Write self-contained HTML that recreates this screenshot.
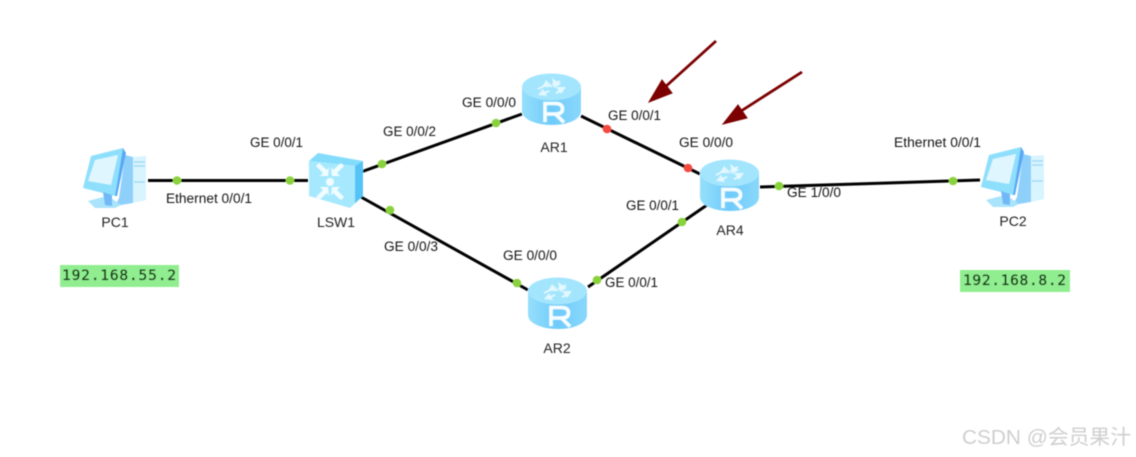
<!DOCTYPE html>
<html><head><meta charset="utf-8"><style>
html,body{margin:0;padding:0;background:#fff;width:1136px;height:457px;overflow:hidden}
svg{display:block}
text{font-family:"Liberation Sans",sans-serif;font-size:13.5px;fill:#161616}
.n{font-size:14px;text-anchor:middle;fill:#222}
.ip{font-family:"DejaVu Sans Mono","Liberation Mono",monospace;font-size:14.5px;fill:#10300f;stroke:#10300f;stroke-width:.35}
</style></head><body>
<svg width="1136" height="457" viewBox="0 0 1136 457" xmlns="http://www.w3.org/2000/svg">
<defs>
<filter id="b" filterUnits="userSpaceOnUse" x="0" y="0" width="1136" height="457"><feGaussianBlur stdDeviation="0.4"/></filter>
<linearGradient id="rb" x1="0" x2="1" y1="0" y2="0"><stop offset="0" stop-color="#96dffc"/><stop offset=".5" stop-color="#6fcbfa"/><stop offset="1" stop-color="#8ad8fb"/></linearGradient>
<g id="router">
<path d="M0 14V38C0 46 13 52 30 52S59 46 59 38V14Z" fill="url(#rb)"/>
<ellipse cx="29.500" cy="14" rx="29.500" ry="13.500" fill="#a3e5fd"/>
<g stroke="#e6f8ff" stroke-width="1.800" fill="none">
<path d="M16 16L24 12M38 8L30 12M20 21L27 18M34 20L41 17"/>
</g>
<path d="M24 7L20 14 31 14ZM30 5L39 11 32 15ZM16 22L25 23 21 16ZM44 14L34 14 39 21Z" fill="#e6f8ff" opacity=".9"/>
<path d="M23 49V30.500H33.500Q40.500 30.500 40.500 36Q40.500 41 33.500 41H23.500M33.500 41L42 49.500" stroke="#f5fdff" stroke-width="3.600" fill="none"/>
</g>
<g id="pc">
<path d="M42 7L50 9 50 55 32 58 36 50Z" fill="#8fd0fb"/>
<path d="M50 9L63 8V52L50 55Z" fill="#d8f4fe"/>
<path d="M51 14H62M51 18H62M51 34H62" stroke="#9ad6f6" stroke-width="1.300"/>
<path d="M8 8L40 0 42 5 33 48 32 48 0 40Z" fill="#8edffc"/>
<path d="M40 0L43 5 34 48 32 48Z" fill="#5aa8f5"/>
<path d="M12 12L35 7 28 37 5 33Z" fill="#dff6fe"/>
<path d="M5 53L20 49 28 50 38 57 32 60 12 60Z" fill="#a9e3fc"/>
<path d="M20 44L29 47 29 58 22 57Z" fill="#6fb9f6"/>
</g>
</defs>

<g filter="url(#b)">
<g stroke="#000" stroke-width="3" fill="none">
<path d="M148 180.500H308"/>
<path d="M361 172L522 114"/>
<path d="M361 197L528 290"/>
<path d="M581 116L700 174"/>
<path d="M588 287L707 205"/>
<path d="M760 187L980 180"/>
</g>

<use href="#pc" x="83" y="148"/>
<use href="#pc" x="981" y="147"/>

<g>
<path d="M318 153L363 161 355 166 309 161Z" fill="#83dcfb"/>
<path d="M309 161L355 166 355 203 350 208 309 196Z" fill="#a6e9fe"/>
<path d="M355 166L363 161 363 196 350 208 355 203Z" fill="#55c3f6"/>
<g fill="#f0fcff">
<path d="M316 166L319 163 327 170 329 167 328 176 320 176 323 173Z"/>
<path d="M344 166L341 163 333 170 331 167 332 176 340 176 337 173Z"/>
<path d="M316 197L319 200 327 193 329 196 328 187 320 187 323 190Z"/>
<path d="M344 197L341 200 333 193 331 196 332 187 340 187 337 190Z"/>
</g>
<circle cx="330" cy="182" r="4" fill="#f0fcff"/>
</g>

<use href="#router" x="522" y="73"/>
<use href="#router" x="700" y="159"/>
<use href="#router" x="528" y="277"/>

<g fill="#8ad23c">
<circle cx="177" cy="180.500" r="4.300"/>
<circle cx="290" cy="180.500" r="4.300"/>
<circle cx="382" cy="164" r="4.300"/>
<circle cx="390" cy="210" r="4.300"/>
<circle cx="496" cy="123" r="4.300"/>
<circle cx="517" cy="283" r="4.300"/>
<circle cx="597" cy="280" r="4.300"/>
<circle cx="682" cy="222" r="4.300"/>
<circle cx="779" cy="186" r="4.300"/>
<circle cx="953" cy="181" r="4.300"/>
</g>
<g fill="#f4493f">
<circle cx="607" cy="129" r="4.300"/>
<circle cx="688" cy="168" r="4.300"/>
</g>

<g stroke="#7b0303" stroke-width="2.800" fill="#7b0303">
<path d="M716 41L664 88" fill="none"/>
<path d="M649 102L662 80 672 93Z" stroke-width="1"/>
<path d="M802 72L738 113" fill="none"/>
<path d="M723 124L738 105 747 118Z" stroke-width="1"/>
</g>

<g>
<text x="250" y="147" textLength="53" lengthAdjust="spacingAndGlyphs">GE 0/0/1</text>
<text x="166" y="203" textLength="86" lengthAdjust="spacingAndGlyphs">Ethernet 0/0/1</text>
<text x="383" y="136" textLength="53" lengthAdjust="spacingAndGlyphs">GE 0/0/2</text>
<text x="384" y="251" textLength="54" lengthAdjust="spacingAndGlyphs">GE 0/0/3</text>
<text x="462" y="107" textLength="54" lengthAdjust="spacingAndGlyphs">GE 0/0/0</text>
<text x="608" y="120" textLength="53" lengthAdjust="spacingAndGlyphs">GE 0/0/1</text>
<text x="679" y="147" textLength="54" lengthAdjust="spacingAndGlyphs">GE 0/0/0</text>
<text x="626" y="210" textLength="53" lengthAdjust="spacingAndGlyphs">GE 0/0/1</text>
<text x="503" y="260" textLength="54" lengthAdjust="spacingAndGlyphs">GE 0/0/0</text>
<text x="605" y="287" textLength="53" lengthAdjust="spacingAndGlyphs">GE 0/0/1</text>
<text x="787" y="197" textLength="54" lengthAdjust="spacingAndGlyphs">GE 1/0/0</text>
<text x="894" y="147" textLength="87" lengthAdjust="spacingAndGlyphs">Ethernet 0/0/1</text>

<text class="n" x="115" y="227">PC1</text>
<text class="n" x="336" y="227">LSW1</text>
<text class="n" x="554" y="152">AR1</text>
<text class="n" x="730" y="235">AR4</text>
<text class="n" x="557" y="353">AR2</text>
<text class="n" x="1013" y="226">PC2</text>
</g>

<rect x="60" y="265" width="119" height="22" fill="#90ee90"/>
<text class="ip" x="62" y="280" textLength="114">192.168.55.2</text>
<rect x="960" y="270" width="110" height="22" fill="#90ee90"/>
<text class="ip" x="963" y="285" textLength="103">192.168.8.2</text>

<text x="962" y="444" style="font-family:'Liberation Sans','Noto Sans CJK SC',sans-serif;font-size:20.500px;fill:#cfcfcf" textLength="169" lengthAdjust="spacingAndGlyphs">CSDN @会员果汁</text>
</g>
</svg>
</body></html>
